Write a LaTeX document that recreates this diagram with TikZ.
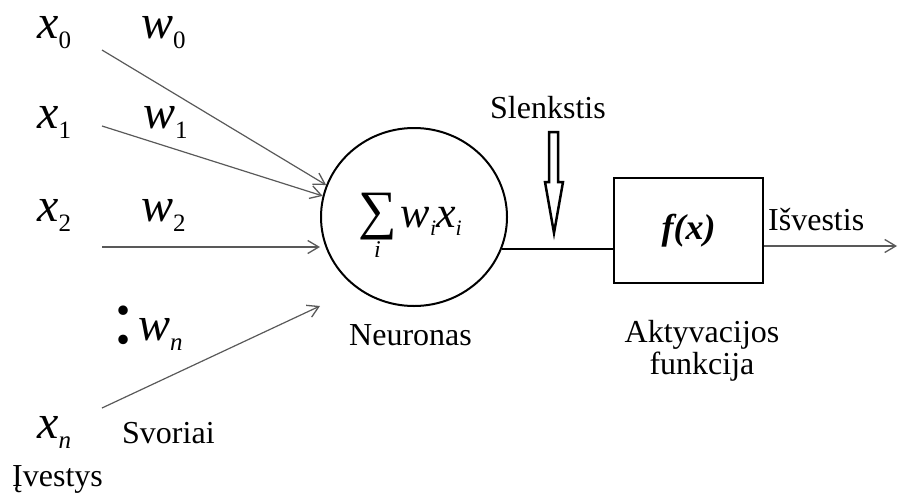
\documentclass[tikz,border=0pt]{standalone}
\usepackage{amsmath}
\usepackage{fontspec}
\setmainfont{Liberation Serif}
\usetikzlibrary{arrows.meta}
\usetikzlibrary{shapes.geometric}
\usetikzlibrary{calc}

\begin{document}
\begin{tikzpicture}[x=1pt,y=-1pt]
\tikzset{txt/.style={inner sep=0pt,anchor=base west,font=\fontsize{32}{36}\selectfont},
  sym/.style={inner sep=0pt,anchor=base west},
  inarrow/.style={draw=black!65,line width=1.2pt,-{Straight Barb[length=11pt,width=13pt,line width=1.3pt]}},
  unit/.style={draw,line width=2pt,inner sep=0pt}}
\def\bigv#1#2{{\fontsize{48}{48}\selectfont\itshape #1}\raisebox{-10pt}{\fontsize{25}{25}\selectfont #2}}
\def\midv#1#2{{\fontsize{44}{44}\selectfont\itshape #1}\raisebox{-8pt}{\fontsize{22}{22}\selectfont\itshape #2}}
\def\bigsum{\ensuremath{\mathop{\vcenter{\hbox{\fontsize{54}{54}\selectfont ∑}}}\limits_{\text{\fontsize{24}{24}\selectfont\itshape i}}}}

\useasboundingbox (0,0) rectangle (899,493);

% inputs x and weights w
\node[sym] (x0) at (37,38) {\bigv{x}{0}};
\node[sym] (w0) at (141,38) {\bigv{w}{0}};
\node[sym] (x1) at (37,128) {\bigv{x}{1}};
\node[sym] (w1) at (143,128) {\bigv{w}{1}};
\node[sym] (x2) at (37,221) {\bigv{x}{2}};
\node[sym] (w2) at (141,221) {\bigv{w}{2}};
\node[sym] (dots) at (112,343) {\fontsize{80}{80}\selectfont :};
\node[sym] (wn) at (138,340) {\bigv{w}{\textit{n}}};
\node[sym] (xn) at (37,438) {\bigv{x}{\textit{n}}};
\node[txt] (svoriai) at (122,443) {Svoriai};
\node[txt] (ivestys) at (12,486) {Įvestys};

% the neuron
\node[unit,ellipse,minimum width=186pt,minimum height=178pt] (neuron) at (414,217) {};
\node[sym] (sum) at (358,227) {\raisebox{8pt}{\bigsum}\kern4pt\midv{w}{i}\midv{x}{i}};
\node[txt] (neuronas) at (349,345) {Neuronas};

% input connections
\coordinate (s0) at (102,50);
\coordinate (s1) at (102,126);
\coordinate (s2) at (102,247);
\coordinate (sn) at (102,408);
\coordinate (en) at (320,306);
\draw[inarrow] (s0) -- (neuron.160);
\draw[inarrow] (s1) -- (neuron.167);
\draw[inarrow] (s2) -- (s2 -| neuron.west);
\draw[inarrow] (sn) -- (en);

% activation function
\node[unit,minimum width=149pt,minimum height=105pt] (act) at (688.5,230.5)
  {\fontsize{36}{40}\selectfont\bfseries\itshape f(x)};
\node[txt,anchor=base] (aktyv) at (702,342) {Aktyvacijos};
\node[txt,anchor=base] (funkc) at (702,374) {funkcija};
\draw[line width=2.5pt] (neuron.-20) -- (neuron.-20 -| act.west);

% threshold
\node[txt] (slenk) at (490,118) {Slenkstis};
\coordinate (thr) at (554,233);
\draw[line width=2.5pt,line join=miter]
  ($(thr)+(-5,-101)$) -- ++(9,0) -- ++(0,50) -- ++(5,0) -- (thr)
  -- ($(thr)+(-9,-51)$) -- ++(4,0) -- cycle;

% output
\coordinate (out) at (897,246);
\draw[inarrow] (act.east |- out) -- (out);
\node[txt] (isv) at (768,230) {Išvestis};
\end{tikzpicture}
\end{document}
